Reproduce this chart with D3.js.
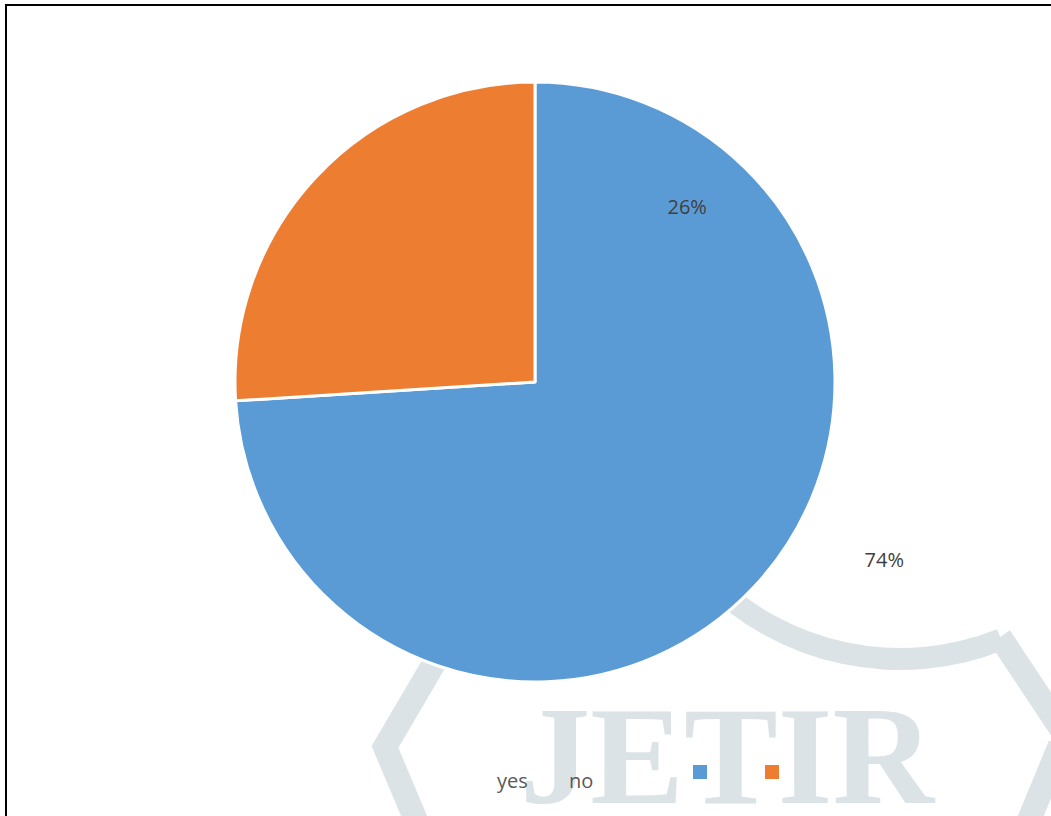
<!DOCTYPE html>
<html>
<head>
<meta charset="utf-8">
<script src="https://cdn.jsdelivr.net/npm/d3@7"></script>
<style>
  html, body { margin: 0; padding: 0; background: #fff; }
  svg { display: block; }
  .label { font-family: "Open Sans", sans-serif; font-size: 20px; fill: #404040; }
  .legend text { font-family: "Open Sans", sans-serif; font-size: 20px; fill: #595959; }
</style>
</head>
<body>
<div id="chart"></div>
<script>
/*
	Pie chart (yes / no) with the journal watermark behind it
*/

// data
var categories = ["yes", "no"];
var values = [74, 26];
var colors = ["#5b9bd5", "#ed7d31"];

var width = 1051, height = 816;
var center = {x: 535, y: 382};
var radius = 300;

// where the data labels sit, as polar offsets (deg from 12 o'clock, px)
var labelPolar = [{angle: 117, r: 392}, {angle: 41, r: 232}];

var svg = d3.select("#chart").append("svg")
    .attr("width", width)
    .attr("height", height);

// watermark (light grey badge + JETIR lettering)
var wm = svg.append("g").attr("class", "watermark");
var wmColor = "#dce3e7";

var ring = d3.arc()
    .innerRadius(259)
    .outerRadius(281)
    .startAngle(158 * Math.PI / 180)
    .endAngle(226 * Math.PI / 180);
wm.append("path")
    .attr("transform", "translate(900,389)")
    .attr("d", ring())
    .attr("fill", wmColor);

var line = d3.line();
wm.append("path")
    .attr("d", line([[1000, 637], [1065, 735]]))
    .attr("stroke", wmColor).attr("stroke-width", 24).attr("fill", "none");
wm.append("path")
    .attr("d", line([[1060, 745], [1025, 830]]))
    .attr("stroke", wmColor).attr("stroke-width", 24).attr("fill", "none");
wm.append("path")
    .attr("d", line([[436, 660], [385, 747], [420, 830]]))
    .attr("stroke", wmColor).attr("stroke-width", 24).attr("fill", "none")
    .attr("stroke-linejoin", "miter");

wm.append("text")
    .attr("x", 520)
    .attr("y", 803)
    .attr("textLength", 414)
    .attr("lengthAdjust", "spacingAndGlyphs")
    .style("font-family", "'Liberation Serif', serif")
    .style("font-weight", "bold")
    .style("font-size", "140px")
    .style("fill", wmColor)
    .text("JETIR");

// pie
var pie = d3.pie().sort(null).value(function(d) { return d; });
var arc = d3.arc().innerRadius(0).outerRadius(radius);

var g = svg.append("g")
    .attr("transform", "translate(" + center.x + "," + center.y + ")");

var slices = pie(values);

g.selectAll("path.slice")
    .data(slices)
    .enter()
  .append("path")
    .attr("class", "slice")
    .attr("d", arc)
    .attr("fill", function(d, i) { return colors[i]; })
    .attr("stroke", "#fff")
    .attr("stroke-width", 3)
    .attr("stroke-linejoin", "round");

var total = d3.sum(values);
g.selectAll("text.label")
    .data(slices)
    .enter()
  .append("text")
    .attr("class", "label")
    .attr("x", function(d, i) { var a = labelPolar[i].angle * Math.PI / 180; return Math.sin(a) * labelPolar[i].r; })
    .attr("y", function(d, i) { var a = labelPolar[i].angle * Math.PI / 180; return -Math.cos(a) * labelPolar[i].r; })
    .attr("dy", "0.35em")
    .style("text-anchor", "middle")
    .text(function(d) { return Math.round(d.value / total * 100) + "%"; });

// legend (names first, then swatches, as in the original)
var legend = svg.append("g").attr("class", "legend");
var nameX = d3.scalePoint().domain(categories).range([497, 569]);
var swatchX = d3.scalePoint().domain(categories).range([693, 765]);

legend.selectAll("text")
    .data(categories)
    .enter()
  .append("text")
    .attr("x", function(d) { return nameX(d); })
    .attr("y", 788)
    .text(function(d) { return d; });

legend.selectAll("rect")
    .data(categories)
    .enter()
  .append("rect")
    .attr("x", function(d) { return swatchX(d); })
    .attr("y", 765)
    .attr("width", 14)
    .attr("height", 14)
    .attr("fill", function(d, i) { return colors[i]; });

// frame
svg.append("rect")
    .attr("x", 6)
    .attr("y", 5)
    .attr("width", 1080)
    .attr("height", 840)
    .attr("fill", "none")
    .attr("stroke", "#000")
    .attr("stroke-width", 2);
</script>
</body>
</html>
